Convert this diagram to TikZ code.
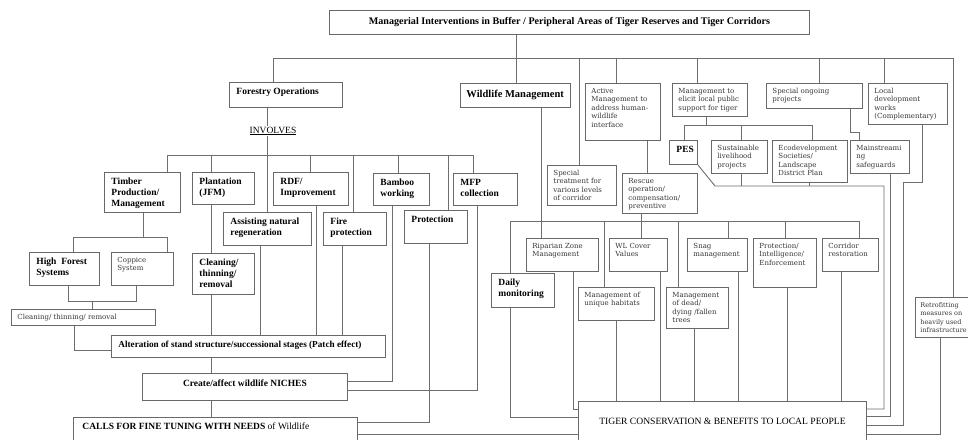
\documentclass[tikz,border=0pt]{standalone}
\usepackage{fontspec}
\setmainfont{Liberation Serif}
\newfontfamily\lightf{DejaVu Serif}
\definecolor{boxg}{RGB}{105,105,105}
\definecolor{lineg}{RGB}{110,110,110}
\definecolor{txtg}{RGB}{55,55,55}
\tikzset{
  box/.style={draw=boxg, line width=0.9pt, fill=white, inner xsep=7pt, inner ysep=0pt, anchor=north west},
  lbox/.style={box, inner xsep=6pt},
  conn/.style={draw=lineg, line width=0.9pt},
}
% [opts]{name}{x,y}{w}{h}{content}
\newcommand\bbox[6][]{\node[box,#1] (#2) at (#3) {\parbox[c][#5pt][t]{\dimexpr#4pt-14pt\relax}{#6}};}
\newcommand\lbox[6][]{\node[lbox,#1] (#2) at (#3) {\parbox[c][#5pt][t]{\dimexpr#4pt-12pt\relax}{#6}};}
\newcommand\bt[1]{\bfseries\fontsize{9.5}{10.7}\selectfont\raggedright\rule{0pt}{12.5pt}#1}
\newcommand\lt[1]{\lightf\fontsize{7}{8.4}\selectfont\color{txtg}\raggedright\rule{0pt}{10pt}#1}
\begin{document}
\begin{tikzpicture}[x=1pt,y=-1pt]
\useasboundingbox (0,0) rectangle (968,439);
\fill[white] (0,0) rectangle (968,439);
% ---------- top ----------
\node[box, minimum width=480pt, minimum height=24pt, inner sep=0pt, font=\bfseries\fontsize{10.1}{11}\selectfont] (title) at (329,10)
  {Managerial Interventions in Buffer / Peripheral Areas of Tiger Reserves and Tiger Corridors};
\bbox{forestry}{229,82}{113}{25}{\bt{Forestry Operations}}
\bbox[inner xsep=6pt]{wildlife}{460,83}{112}{24}{\bfseries\fontsize{10.5}{12}\selectfont\rule{0pt}{14pt}Wildlife Management}
\lbox{active}{585,83}{75}{57}{\lt{Active\\ Management to\\ address human-\\ wildlife\\ interface}}
\lbox{elicit}{672,83}{75}{33}{\lt{Management to\\ elicit local public\\ support for tiger}}
\lbox{ongoing}{766,83}{96}{25}{\lt{Special ongoing\\ projects}}
\lbox{localdev}{868,83}{79}{41}{\lt{Local\\ development\\ works\\ (Complementary)}}
\bbox{pes}{669,140}{28}{24}{\bt{PES}}
\lbox{sustain}{711,140}{56}{33}{\lt{Sustainable\\ livelihood\\ projects}}
\lbox{ecodev}{772,140}{75}{42}{\lt{Ecodevelopment\\ Societies/\\ Landscape\\ District Plan}}
\lbox{mainstream}{850,140}{59}{33}{\lt{Mainstreami\\ ng\\ safeguards}}
\lbox{special}{547,165}{69}{40}{\lt{Special\\ treatment for\\ various levels\\ of corridor}}
\lbox{rescue}{622,173}{75}{40}{\lt{Rescue\\ operation/\\ compensation/\\ preventive}}
\lbox{riparian}{526,238}{72}{33}{\lt{Riparian Zone\\ Management}}
\lbox{wlcover}{609,238}{58}{33}{\lt{WL Cover\\ Values}}
\lbox{snag}{687,238}{60}{33}{\lt{Snag\\ management}}
\lbox{protint}{753,238}{63}{49}{\lt{Protection/\\ Intelligence/\\ Enforcement}}
\lbox{corridor}{822,238}{56}{33}{\lt{Corridor\\ restoration}}
\bbox{daily}{491,273}{63}{34}{\bt{Daily\\ monitoring}}
\lbox{unique}{578,287}{76}{33}{\lt{Management of\\ unique habitats}}
\lbox{dead}{666,287}{62}{41}{\lt{Management\\ of dead/\\ dying /fallen\\ trees}}
\node[box, inner xsep=5pt] (retro) at (915,297) {\parbox[c][40pt][t]{50pt}{\lightf\fontsize{6.5}{8.4}\selectfont\color{txtg}\raggedright\rule{0pt}{10pt}Retrofitting\\ measures on\\ heavily used\\ infrastructure}};
\bbox{tiger}{578,401}{288}{45}{\centering\fontsize{9.6}{11}\selectfont\rule{0pt}{23pt}TIGER CONSERVATION \& BENEFITS TO LOCAL PEOPLE}
% ---------- left ----------
\node[inner sep=1pt, font=\fontsize{9.5}{11}\selectfont] (involves) at (273,131) {\underline{INVOLVES}};
\bbox{timber}{104,172}{76}{40}{\bt{Timber\\ Production/\\ Management}}
\bbox{plantation}{192,172}{62}{32}{\bt{Plantation\\ (JFM)}}
\bbox{rdf}{273,172}{75}{33}{\bt{RDF/\\ Improvement}}
\bbox{bamboo}{373,173}{56}{32}{\bt{Bamboo\\ working}}
\bbox{mfp}{453,173}{64}{32}{\bt{MFP\\ collection}}
\bbox{assist}{223,212}{88}{33}{\bt{Assisting natural\\ regeneration}}
\bbox{fire}{323,212}{63}{33}{\bt{Fire\\ protection}}
\bbox{protection}{404,210}{63}{33}{\bt{Protection}}
\bbox{highforest}{29,252}{70}{33}{\bt{High~ Forest\\ Systems}}
\lbox{coppice}{111,252}{62}{33}{\lt{Coppice\\ System}}
\bbox{cleanbold}{192,253}{62}{41}{\bt{Cleaning/\\ thinning/\\ removal}}
\lbox{cleansmall}{11,309}{144}{16}{\lt{Cleaning/ thinning/ removal}}
\bbox{alter}{111,335}{274}{22}{\bfseries\fontsize{9.2}{10.7}\selectfont\rule{0pt}{12pt}Alteration of stand structure/successional stages (Patch effect)}
\bbox{niches}{142,373}{205}{27}{\centering\bfseries\fontsize{9.5}{10.7}\selectfont\rule{0pt}{13pt}Create/affect wildlife NICHES}
\bbox[inner xsep=9pt]{calls}{73,417}{280}{30}{\fontsize{9.5}{10.7}\selectfont\rule{0pt}{12.5pt}\textbf{CALLS FOR FINE TUNING WITH NEEDS} of Wildlife}
% ---------- connectors: top ----------
\coordinate (bus) at (0,58);
\draw[conn] (title.south -| 516,0) -- (wildlife.north -| 516,0);
\draw[conn] (forestry.north -| 273,0) -- (273,0 |- bus) -- (953,0 |- bus) -- (retro.north -| 953,0);
\draw[conn] (special.north -| 579,0) -- (579,0 |- bus);
\draw[conn] (active.north -| 616,0) -- (616,0 |- bus);
\draw[conn] (elicit.north -| 697,0) -- (697,0 |- bus);
\draw[conn] (ongoing.north -| 819,0) -- (819,0 |- bus);
\draw[conn] (localdev.north -| 884,0) -- (884,0 |- bus);
% ---------- wildlife group ----------
\coordinate (wbus) at (0,221);
\draw[conn] (wildlife.south -| 541,0) -- (riparian.north -| 541,0);
\draw[conn] (active.south -| 647,0) -- (rescue.north -| 647,0);
\draw[conn] (rescue.south -| 641,0) -- (wlcover.north -| 641,0);
\draw[conn] (daily.north -| 510,0) -- (510,0 |- wbus) -- (859,0 |- wbus) -- (corridor.north -| 859,0);
\draw[conn] (unique.north -| 604,0) -- (604,0 |- wbus);
\draw[conn] (dead.north -| 678,0) -- (678,0 |- wbus);
\draw[conn] (snag.north -| 728,0) -- (728,0 |- wbus);
\draw[conn] (protint.north -| 785,0) -- (785,0 |- wbus);
\draw[conn] (daily.south -| 510,0) |- (tiger.west |- 0,417);
\draw[conn] (riparian.south -| 573,0) |- (tiger.west |- 0,409);
\draw[conn] (unique.south -| 616,0) -- (tiger.north -| 616,0);
\draw[conn] (wlcover.south -| 660,0) -- (tiger.north -| 660,0);
\draw[conn] (dead.south -| 694,0) -- (tiger.north -| 694,0);
\draw[conn] (snag.south -| 738,0) -- (tiger.north -| 738,0);
\draw[conn] (protint.south -| 787,0) -- (tiger.north -| 787,0);
\draw[conn] (corridor.south -| 841,0) -- (tiger.north -| 841,0);
% ---------- public support group ----------
\coordinate (ebus) at (0,125);
\coordinate (pbus) at (0,186);
\draw[conn] (elicit.south -| 706,0) -- (706,0 |- ebus);
\draw[conn] (pes.north -| 684,0) -- (684,0 |- ebus) -- (812,0 |- ebus) -- (ecodev.north -| 812,0);
\draw[conn] (sustain.north -| 741,0) -- (741,0 |- ebus);
\draw[conn] (pes.south east) -- (715,0 |- pbus) -- (884,0 |- pbus) |- (tiger.east |- 0,409);
\draw[conn] (sustain.south -| 741,0) -- (741,0 |- pbus);
\draw[conn] (ecodev.south -| 809,0) -- (809,0 |- pbus);
\draw[conn] (ongoing.south -| 850,0) -- (850,132) -| (mainstream.north -| 859,0);
\draw[conn] (mainstream.south -| 890,0) |- (tiger.east |- 0,416);
\draw[conn] (localdev.south -| 922,0) -- (922,182) -- (903,182) |- (tiger.east |- 0,425);
\draw[conn] (retro.south -| 940,0) |- (tiger.east |- 0,434);
% ---------- forestry group ----------
\coordinate (fbus) at (0,155);
\draw[conn] (forestry.south -| 267,0) -- (involves.north -| 267,0);
\draw[conn] (involves.south -| 267,0) -- (assist.north -| 267,0);
\draw[conn] (timber.north -| 167,0) -- (167,0 |- fbus) -- (473,0 |- fbus) -- (mfp.north -| 473,0);
\draw[conn] (plantation.north -| 211,0) -- (211,0 |- fbus);
\draw[conn] (rdf.north -| 310,0) -- (310,0 |- fbus);
\draw[conn] (fire.north -| 353,0) -- (353,0 |- fbus);
\draw[conn] (bamboo.north -| 398,0) -- (398,0 |- fbus);
\draw[conn] (protection.north -| 448,0) -- (448,0 |- fbus);
\coordinate (tbus) at (0,237);
\coordinate (hbus) at (0,301);
\draw[conn] (timber.south -| 143,0) -- (143,0 |- tbus);
\draw[conn] (highforest.north -| 73,0) -- (73,0 |- tbus) -- (167,0 |- tbus) -- (coppice.north -| 167,0);
\draw[conn] (highforest.south -| 68,0) -- (68,0 |- hbus) -- (136,0 |- hbus) -- (coppice.south -| 136,0);
\draw[conn] (92,0 |- hbus) -- (cleansmall.north -| 92,0);
\draw[conn] (cleansmall.south -| 74,0) |- (alter.west |- 0,350);
\draw[conn] (plantation.south -| 211,0) -- (cleanbold.north -| 211,0);
\draw[conn] (cleanbold.south -| 211,0) -- (alter.north -| 211,0);
\draw[conn] (assist.south -| 260,0) -- (alter.north -| 260,0);
\draw[conn] (rdf.south -| 316,0) -- (alter.north -| 316,0);
\draw[conn] (fire.south -| 342,0) -- (alter.north -| 342,0);
\draw[conn] (alter.south -| 211,0) -- (niches.north -| 211,0);
\draw[conn] (niches.south -| 211,0) -- (calls.north -| 211,0);
\draw[conn] (bamboo.south -| 392,0) |- (niches.east |- 0,381);
\draw[conn] (mfp.south -| 477,0) |- (niches.east |- 0,390);
\draw[conn] (protection.south -| 429,0) |- (calls.east |- 0,422);
\draw[conn] (calls.east |- 0,434) -- (tiger.west |- 0,434);
\end{tikzpicture}
\end{document}
